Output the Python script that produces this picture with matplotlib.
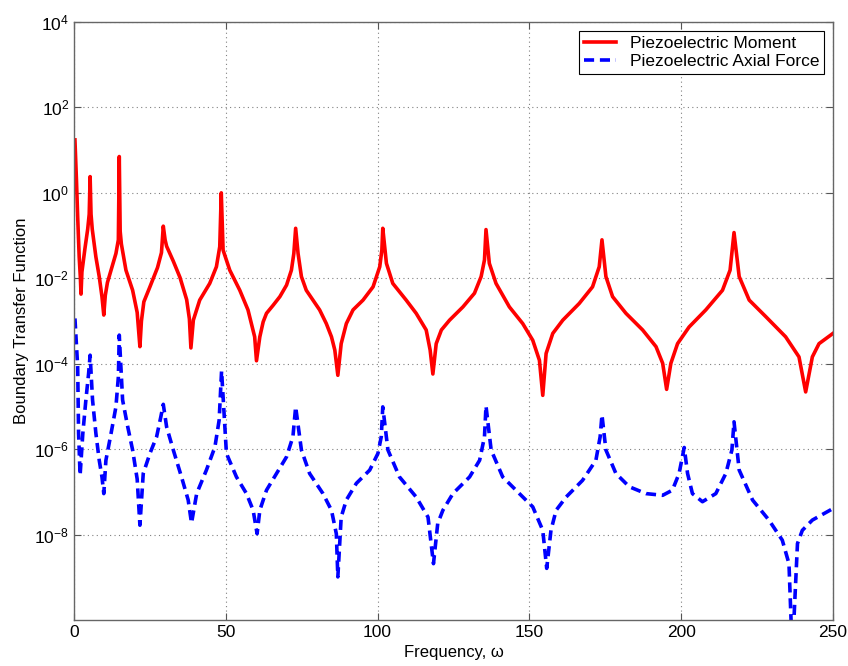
import matplotlib
matplotlib.use("Agg")
import matplotlib.pyplot as plt
import numpy as np

plt.rcParams['font.family'] = ['Liberation Sans', 'DejaVu Sans']

# piezoelectric moment: frequency and log10 of transfer function
freq_moment = [0.3, 0.8, 1.2, 1.7, 2.1, 2.3, 2.6, 3.6, 4.5, 5.0, 5.3, 5.6, 6.0, 7.2, 8.3, 9.2, 9.8,
               10.3, 11.0, 12.2, 13.8, 14.6, 14.9, 15.2, 15.6, 17.1, 19.3, 20.8, 21.7, 22.2, 23.0,
               25.0, 27.5, 28.8, 29.4, 30.0, 30.5, 32.7, 34.9, 37.1, 38.0, 38.5, 39.3, 41.4, 44.7,
               46.9, 48.0, 48.5, 49.1, 51.3, 54.6, 57.3, 59.5, 60.1, 61.2, 62.3, 63.4, 65.6, 67.8,
               70.0, 71.6, 72.4, 73.0, 73.8, 74.9, 76.5, 78.7, 80.9, 83.1, 84.8, 85.9, 86.9, 88.0,
               89.7, 91.9, 95.2, 98.5, 100.7, 101.4, 101.7, 102.9, 105.0, 109.4, 112.7, 116.0,
               117.3, 118.2, 119.3, 121.0, 123.7, 128.1, 131.9, 134.1, 135.2, 135.7, 136.8, 139.0,
               143.4, 147.8, 151.1, 153.3, 154.4, 155.5, 157.7, 161.0, 166.4, 170.8, 173.0, 173.9,
               175.2, 177.4, 181.8, 187.3, 191.7, 193.9, 195.2, 196.6, 198.8, 202.6, 208.1, 213.6,
               216.1, 217.4, 219.1, 222.4, 227.9, 234.4, 238.8, 241.0, 243.2, 245.4, 250.0]
log_moment = [1.24, 0.30, -0.56, -1.50, -2.00, -2.37, -1.85, -1.30, -0.85, -0.50, 0.38, -0.50, -0.85,
              -1.50, -1.96, -2.43, -2.86, -2.40, -2.10, -1.81, -1.42, -1.10, 0.85, -0.90, -1.20,
              -1.81, -2.28, -2.80, -3.60, -3.00, -2.55, -2.20, -1.75, -1.40, -0.78, -1.10, -1.25,
              -1.60, -1.98, -2.50, -2.95, -3.63, -2.98, -2.51, -2.12, -1.73, -1.26, 0.00, -1.34,
              -1.81, -2.28, -2.74, -3.37, -3.93, -3.37, -3.02, -2.82, -2.63, -2.43, -2.16, -1.81,
              -1.42, -0.83, -1.42, -1.96, -2.28, -2.51, -2.74, -3.06, -3.37, -3.68, -4.27, -3.53,
              -3.06, -2.74, -2.51, -2.20, -1.73, -1.34, -0.83, -1.65, -2.12, -2.51, -2.82, -3.21,
              -3.68, -4.24, -3.53, -3.21, -2.98, -2.67, -2.35, -1.96, -1.57, -0.86, -1.65, -2.12,
              -2.67, -3.06, -3.45, -3.92, -4.74, -3.76, -3.29, -2.98, -2.59, -2.20, -1.73, -1.10,
              -1.96, -2.43, -2.82, -3.21, -3.60, -3.99, -4.60, -3.99, -3.53, -3.14, -2.74, -2.28,
              -1.81, -0.93, -1.96, -2.51, -2.90, -3.37, -3.84, -4.66, -3.84, -3.53, -3.29]

# piezoelectric axial force
freq_axial = [0.3, 1.2, 1.5, 2.0, 2.9, 3.9, 4.8, 5.3, 6.1, 7.2, 8.3, 9.2, 9.8, 10.5, 12.2, 13.8,
              14.6, 14.9, 16.0, 17.7, 19.3, 20.8, 21.7, 22.8, 25.0, 27.2, 28.6, 29.4, 30.5, 32.7,
              35.4, 37.6, 38.7, 40.4, 43.6, 46.4, 47.8, 48.6, 50.2, 53.5, 56.8, 59.0, 60.3, 61.2,
              63.4, 66.7, 70.0, 72.1, 73.0, 74.9, 77.6, 82.0, 84.8, 86.4, 86.9, 88.0, 89.7, 93.0,
              97.4, 100.1, 101.2, 101.7, 103.4, 107.2, 112.7, 116.6, 118.4, 119.8, 121.5, 124.8,
              130.3, 133.6, 135.2, 135.7, 137.4, 141.2, 146.7, 151.1, 154.4, 155.7, 157.1, 158.8,
              162.1, 167.5, 171.9, 173.3, 173.9, 175.2, 178.5, 182.9, 188.4, 193.9, 197.1, 199.3,
              201.0, 202.1, 203.7, 207.0, 211.4, 214.7, 216.7, 217.4, 219.1, 223.5, 228.9, 233.3,
              235.5, 236.6, 238.3, 239.9, 243.2, 250.0]
log_axial = [-2.94, -4.07, -5.63, -6.61, -5.63, -4.85, -4.23, -3.80, -4.85, -5.63, -6.26, -6.65,
             -7.04, -6.26, -5.63, -5.01, -4.31, -3.33, -4.85, -5.48, -6.02, -6.70, -7.78, -6.57,
             -6.10, -5.71, -5.24, -4.95, -5.48, -6.02, -6.65, -7.19, -7.73, -7.04, -6.49, -5.95,
             -5.32, -4.17, -6.10, -6.65, -7.04, -7.43, -7.98, -7.43, -6.96, -6.57, -6.18, -5.71,
             -5.01, -6.02, -6.57, -7.04, -7.43, -7.98, -8.99, -7.59, -7.19, -6.80, -6.49, -6.10,
             -5.71, -5.01, -6.02, -6.65, -7.12, -7.59, -8.68, -7.74, -7.43, -7.04, -6.65, -6.26,
             -5.71, -4.99, -6.02, -6.65, -7.04, -7.35, -7.90, -8.79, -7.90, -7.43, -7.12, -6.73,
             -6.26, -5.71, -5.20, -6.02, -6.57, -6.88, -7.04, -7.08, -6.96, -6.57, -5.96, -6.57,
             -7.04, -7.23, -7.04, -6.57, -6.02, -5.36, -6.49, -7.19, -7.66, -8.13, -8.68, -10.8,
             -8.21, -7.90, -7.66, -7.39]

fig = plt.figure(figsize=(8.48, 6.66), dpi=100)
ax = fig.add_axes([0.0873, 0.069, 0.8950, 0.898])

ax.plot(freq_moment, 10.0 ** np.array(log_moment), color='#ff0000', lw=2.6,
        solid_joinstyle='round', label='Piezoelectric Moment')
ax.plot(freq_axial, 10.0 ** np.array(log_axial), color='#0000ff', lw=2.6,
        dashes=(2.8, 1.6), label='Piezoelectric Axial Force')

ax.set_yscale('log')
ax.set_xlim(0, 250)
ax.set_ylim(1e-10, 1e4)
ax.set_xticks([0, 50, 100, 150, 200, 250])
ax.set_yticks([10.0 ** k for k in range(-8, 5, 2)])
ax.minorticks_off()
ax.grid(True, which='major', color='#808080', linestyle=(0, (1, 3)), linewidth=0.8)
ax.tick_params(direction='in', top=True, right=True, length=5, labelsize=12.5, color='#555555')
for s in ax.spines.values():
    s.set_color('#666666')
    s.set_linewidth(1.0)

ax.set_xlabel('Frequency, ω', fontsize=12)
ax.set_ylabel('Boundary Transfer Function', fontsize=12)
ax.xaxis.labelpad = 4

leg = ax.legend(loc='upper right', fontsize=12.5, fancybox=False, framealpha=1,
                edgecolor='black', borderaxespad=0.5, handlelength=1.8,
                borderpad=0.3, labelspacing=0.15)
leg.get_frame().set_linewidth(0.8)

fig.savefig('out.png', dpi=100)
